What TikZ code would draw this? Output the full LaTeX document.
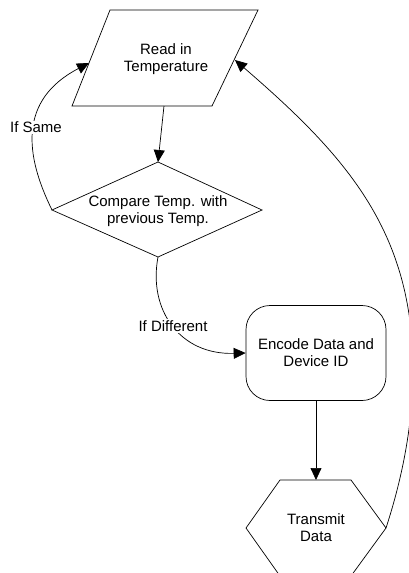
\documentclass[tikz,border=0pt]{standalone}
\usepackage{fontspec}
\setmainfont{Liberation Sans}
\usetikzlibrary{arrows.meta}
\begin{document}
\begin{tikzpicture}[x=1pt,y=-1pt,line width=0.7pt]
\tikzset{texte/.style={align=center, font=\fontsize{15}{17}\selectfont, inner sep=1pt},
fleche/.style={-{Triangle[length=12pt,width=11pt]}},
etiq/.style={fill=white, font=\fontsize{15}{17}\selectfont, inner sep=1pt}}
\useasboundingbox (0,0) rectangle (409,573);
\draw (110,10) -- (258,10) -- (212,106) -- (72,106) -- cycle;
\draw (158,162) -- (262,210) -- (158,257) -- (52,210) -- cycle;
\draw (280,480) -- (351,480) -- (386,528) -- (351,576) -- (280,576) -- (246,528) -- cycle;
\node[texte] (Read) at (166,59) {Read in\\Temperature};
\node[texte] (Comp) at (158,211) {Compare Temp. with\\previous Temp.};
\node[texte, draw, rounded corners=24pt, minimum width=140pt, minimum height=95pt] (Enc) at (316,353) {Encode Data and\\Device ID};
\node[texte] (Trans) at (316,528) {Transmit\\Data};
\coordinate (ReadB) at (164,106);
\coordinate (ReadL) at (89,63);
\coordinate (ReadR) at (235,60);
\coordinate (CompT) at (158,162);
\coordinate (CompL) at (52,210);
\coordinate (CompB) at (158,257);
\coordinate (TransT) at (316,480);
\coordinate (TransR) at (386,528);
\draw[fleche] (ReadB) -- (CompT);
\draw[fleche] (CompL) .. controls (25,155) and (18,100) .. (ReadL);
\draw[fleche] (CompB) .. controls (148,310) and (180,355) .. (Enc.west);
\draw[fleche] (Enc.south) -- (TransT);
\draw[fleche] (TransR) .. controls (400,485) and (413,430) .. (413,370) .. controls (413,230) and (345,155) .. (ReadR);
\node[etiq] (Same) at (36,127) {If Same};
\node[etiq] (Diff) at (173,326) {If Different};
\end{tikzpicture}
\end{document}
